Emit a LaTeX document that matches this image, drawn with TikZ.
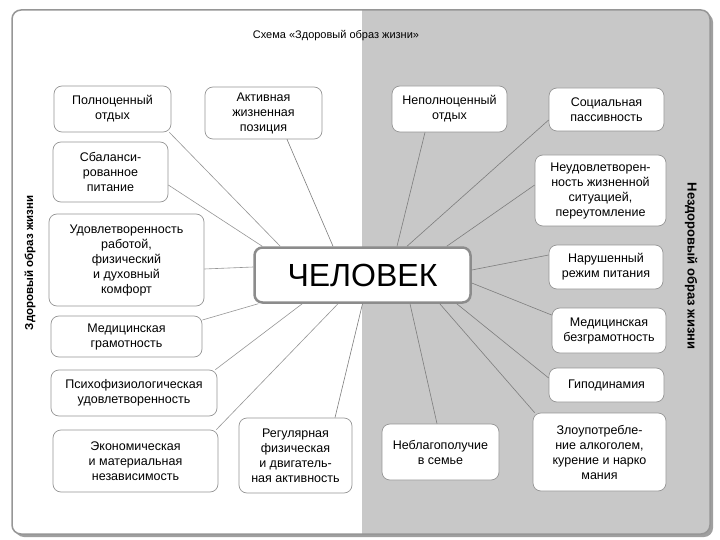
\documentclass[tikz,border=0pt]{standalone}
\usepackage{fontspec}
\setmainfont{Liberation Sans}
\usetikzlibrary{calc}
\definecolor{bg}{RGB}{200,200,200}
\definecolor{edgecol}{RGB}{150,150,150}
\definecolor{conncol}{RGB}{125,125,125}
\definecolor{connlight}{RGB}{150,150,150}
\definecolor{framecol}{RGB}{140,140,140}
\begin{document}
\begin{tikzpicture}[x=1pt,y=-1pt,
  box/.style={draw=edgecol, line width=0.7pt, fill=white, rounded corners=8pt, align=center, inner sep=2pt, font=\fontsize{12.5}{15}\selectfont},
  centerbox/.style={draw=framecol, line width=2.5pt, fill=white, rounded corners=8pt, align=center, inner sep=2pt, font=\fontsize{32}{36}\selectfont},
  conn/.style={draw=conncol, line width=0.6pt},
  connl/.style={draw=connlight, line width=0.6pt},
  vlabel/.style={font=\bfseries\fontsize{11.5}{13}\selectfont},
  ]
\useasboundingbox (0,0) rectangle (720,540);
% frame
\fill[gray!75, rounded corners=9pt] (15,13) rectangle (713,537);
\fill[white, rounded corners=9pt] (12,10) rectangle (710,534);
\begin{scope}
\clip[rounded corners=9pt] (12,10) rectangle (710,534);
\fill[bg] (362,0) rectangle (720,540);
\end{scope}
\draw[edgecol, line width=1.5pt, rounded corners=9pt] (12,10) rectangle (710,534);

% title and side labels
\node[font=\fontsize{11}{13}\selectfont] (title) at (336,36) {Схема «Здоровый образ жизни»};
\node[vlabel, rotate=90] (leftlab) at (30,263) {Здоровый образ жизни};
\node[vlabel, rotate=-90, font=\bfseries\fontsize{13}{15}\selectfont] (rightlab) at (691,266) {Нездоровый образ жизни};

% nodes
\node[box, minimum width=117, minimum height=46] (polnots) at (112.5,109) {Полноценный\\отдых};
\node[box, minimum width=117, minimum height=52] (aktiv) at (263.5,113) {Активная\\жизненная\\позиция};
\node[box, minimum width=115, minimum height=46] (nepoln) at (449.5,109) {Неполноценный\\отдых};
\node[box, minimum width=115, minimum height=43] (sotsial) at (606.5,109.5) {Социальная\\пассивность};
\node[box, minimum width=115, minimum height=60] (sbalans) at (110.5,172) {Сбаланси-\\рованное\\питание};
\node[box, minimum width=155, minimum height=92] (udovl) at (126.5,260) {Удовлетворенность\\работой,\\физический\\и духовный\\комфорт};
\node[box, minimum width=151, minimum height=41] (medgram) at (126.5,336.5) {Медицинская\\грамотность};
\node[box, minimum width=166, minimum height=46] (psikho) at (134,393) {Психофизиологическая\\удовлетворенность};
\node[box, minimum width=165, minimum height=62] (ekonom) at (135.5,461) {Экономическая\\и материальная\\независимость};
\node[box, minimum width=113, minimum height=75] (regul) at (295.5,455.5) {Регулярная\\физическая\\и двигатель-\\ная активность};
\node[box, minimum width=117, minimum height=56] (neblag) at (440.5,452) {Неблагополучие\\в семье};
\node[box, minimum width=133, minimum height=78] (zloup) at (599.5,452) {Злоупотребле-\\ние алкоголем,\\курение и нарко\\мания};
\node[box, minimum width=115, minimum height=34] (gipodin) at (606.5,385) {Гиподинамия};
\node[box, minimum width=114, minimum height=45] (medbez) at (609,330.5) {Медицинская\\безграмотность};
\node[box, minimum width=114, minimum height=44] (narush) at (606,267) {Нарушенный\\режим питания};
\node[box, minimum width=131, minimum height=71] (neudovl) at (600.5,190.5) {Неудовлетворен-\\ность жизненной\\ситуацией,\\переутомление};
\node[centerbox, minimum width=216, minimum height=55] (chel) at (362.5,275) {ЧЕЛОВЕК};

% connectors
\draw[connl] ([xshift=-2]polnots.south east) -- ([xshift=27]chel.north west);
\draw[connl] ([yshift=-13]sbalans.east) -- ([xshift=9]chel.north west);
\draw[conn] ([xshift=23.5]aktiv.south) -- ([xshift=-29.5]chel.north);
\draw[connl] ([yshift=-9]udovl.east) -- ([yshift=8]chel.west);
\draw[connl] ([yshift=16.5]medgram.east) -- ([xshift=5]chel.south west);
\draw[connl] ([xshift=-2]psikho.north east) -- ([xshift=49]chel.south west);
\draw[connl] ([xshift=-2]ekonom.north east) -- ([xshift=-24.5]chel.south);
\draw[conn] ([xshift=39.5]regul.north) -- (chel.south);
\draw[conn] ([xshift=-24.5]nepoln.south) -- ([xshift=34.5]chel.north);
\draw[conn] ([yshift=-10.5]sotsial.west) -- ([xshift=44.5]chel.north);
\draw[conn] ([yshift=5.5]neudovl.west) -- ([xshift=-25]chel.north east);
\draw[conn] ([yshift=12]narush.west) -- ([yshift=5]chel.east);
\draw[conn] ([yshift=15.5]medbez.west) -- ([yshift=-8]chel.east);
\draw[conn] ([yshift=7]gipodin.west) -- ([xshift=-15]chel.south east);
\draw[conn] ([xshift=2]zloup.north west) -- ([xshift=-32]chel.south east);
\draw[conn] ([xshift=-3.5]neblag.north) -- ([xshift=47.5]chel.south);
\end{tikzpicture}
\end{document}
